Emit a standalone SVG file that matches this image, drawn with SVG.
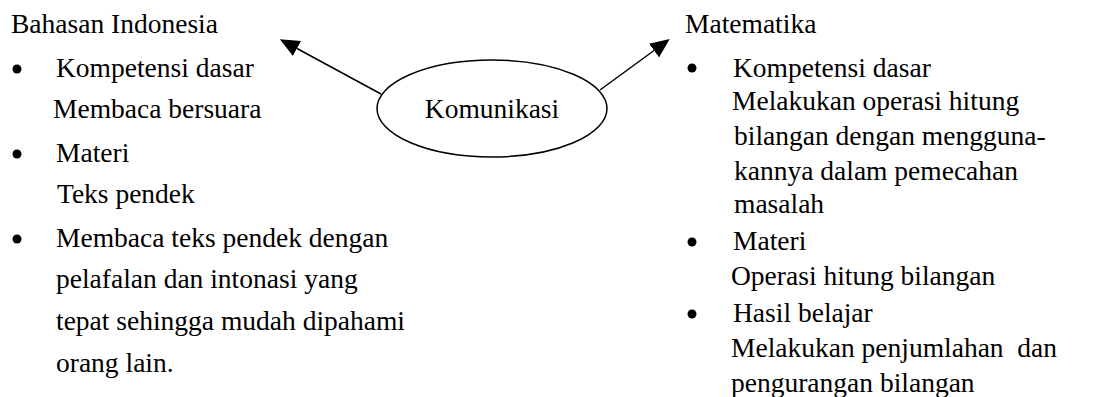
<svg xmlns="http://www.w3.org/2000/svg" width="1096" height="397" viewBox="0 0 1096 397">
<style>
text{font-family:"Liberation Serif","Times New Roman",serif;font-size:27.5px;fill:#000;white-space:pre}
.b{fill:#000}
.c{stroke:#000;stroke-width:1.5;fill:none}
</style>
<defs>
<marker id="ah" viewBox="0 0 20 17" refX="0" refY="8.5" markerWidth="20" markerHeight="17" markerUnits="userSpaceOnUse" orient="auto">
<path d="M0,0 L19.5,8.5 L0,17 z" fill="#000"/>
</marker>
</defs>
<rect width="1096" height="397" fill="#fff"/>
<g id="connectors">
<line class="c" x1="381" y1="94" x2="297" y2="48.5" marker-end="url(#ah)"/>
<line class="c" x1="600" y1="90" x2="654" y2="50.5" marker-end="url(#ah)"/>
</g>
<g id="komunikasi">
<ellipse cx="492" cy="108.5" rx="115" ry="48.5" fill="none" stroke="#000" stroke-width="1.5"/>
<text x="492" y="118" text-anchor="middle">Komunikasi</text>
</g>
<g id="bahasa-indonesia">
<text x="11" y="33">Bahasan Indonesia</text>
<circle class="b" cx="17" cy="69" r="4.5"/>
<text x="56" y="77">Kompetensi dasar</text>
<text x="53" y="118">Membaca bersuara</text>
<circle class="b" cx="17" cy="154" r="4.5"/>
<text x="56" y="162">Materi</text>
<text x="57" y="203">Teks pendek</text>
<circle class="b" cx="17" cy="239" r="4.5"/>
<text x="56" y="247">Membaca teks pendek dengan</text>
<text x="56" y="288">pelafalan dan intonasi yang</text>
<text x="56" y="330">tepat sehingga mudah dipahami</text>
<text x="56" y="372">orang lain.</text>
</g>
<g id="matematika">
<text x="685" y="33">Matematika</text>
<circle class="b" cx="692" cy="68" r="4.5"/>
<text x="733" y="77">Kompetensi dasar</text>
<text x="732" y="110">Melakukan operasi hitung</text>
<text x="734" y="145">bilangan dengan mengguna-</text>
<text x="734" y="180">kannya dalam pemecahan</text>
<text x="734" y="213">masalah</text>
<circle class="b" cx="692" cy="242" r="4.5"/>
<text x="733" y="250">Materi</text>
<text x="731" y="285">Operasi hitung bilangan</text>
<circle class="b" cx="692" cy="314" r="4.5"/>
<text x="733" y="322">Hasil belajar</text>
<text x="731" y="357">Melakukan penjumlahan  dan</text>
<text x="731" y="392">pengurangan bilangan</text>
</g>
</svg>
